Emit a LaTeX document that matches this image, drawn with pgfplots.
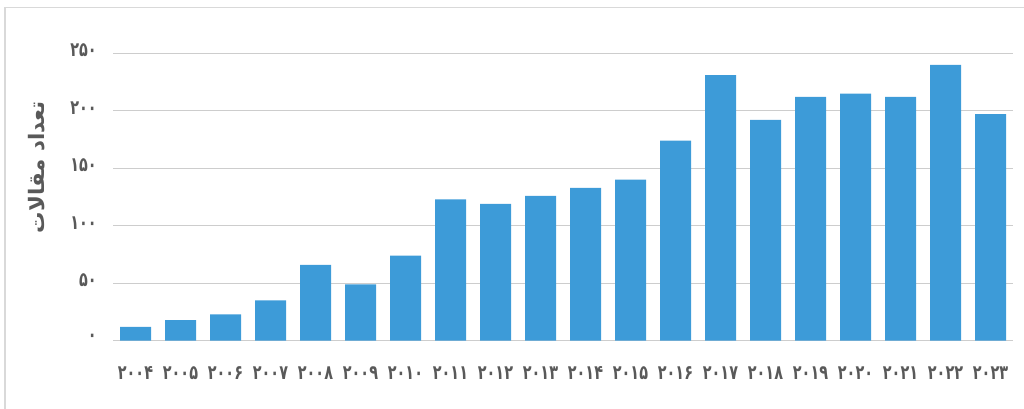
\documentclass[border=0pt]{standalone}
\usepackage{fontspec}
\usepackage{pgfplots}
\pgfplotsset{compat=1.18}
\TeXXeTstate=1
\newfontfamily\fa[Script=Arabic]{DejaVu Sans}
\newfontfamily\fanum[Script=Arabic,FakeStretch=0.72]{DejaVu Sans}
\definecolor{barblue}{RGB}{61,155,216}
\definecolor{gridgray}{RGB}{205,205,205}
\definecolor{txt}{RGB}{89,89,89}
\definecolor{framegray}{RGB}{217,217,217}
\pgfplotstableread{
x y
0 12
1 18
2 23
3 35
4 66
5 49
6 74
7 123
8 119
9 126
10 133
11 140
12 174
13 231
14 192
15 212
16 215
17 212
18 240
19 197
}\datatable
\begin{document}
\begin{tikzpicture}
\useasboundingbox (0,0) rectangle (768pt,306.75pt);
\draw[framegray, line width=1.1pt] (3.75pt,-5pt) -- (3.75pt,301.2pt) -- (775pt,301.2pt);
\begin{axis}[
  at={(84.75pt,51.2pt)}, anchor=south west,
  scale only axis, width=675pt, height=215.6pt,
  xmin=-0.5, xmax=19.5, ymin=0, ymax=250,
  axis line style={draw=none},
  tick style={draw=none},
  ymajorgrids, grid style={gridgray, line width=1.1pt},
  xtick={0,...,19},
  xticklabels={۲۰۰۴,۲۰۰۵,۲۰۰۶,۲۰۰۷,۲۰۰۸,۲۰۰۹,۲۰۱۰,۲۰۱۱,۲۰۱۲,۲۰۱۳,۲۰۱۴,۲۰۱۵,۲۰۱۶,۲۰۱۷,۲۰۱۸,۲۰۱۹,۲۰۲۰,۲۰۲۱,۲۰۲۲,۲۰۲۳},
  ytick={0,50,100,150,200,250},
  yticklabels={۰,۵۰,۱۰۰,۱۵۰,۲۰۰,۲۵۰},
  ticklabel style={font=\fanum\bfseries\fontsize{15}{17}\selectfont, text=txt, inner sep=0pt},
  xticklabel style={anchor=center, yshift=-24pt},
  yticklabel style={anchor=east, xshift=-12pt, yshift=2pt},
  ylabel={\fa\beginR تعداد مقالات\endR},
  ylabel style={at={(axis description cs:-0.0844,0.604)}, anchor=center, font=\fa\bfseries\fontsize{16}{18}\selectfont, text=txt},
]
\addplot[ybar, bar width=23.25pt, fill=barblue, draw=none] table[x=x,y=y] {\datatable};
\end{axis}
\end{tikzpicture}
\end{document}
